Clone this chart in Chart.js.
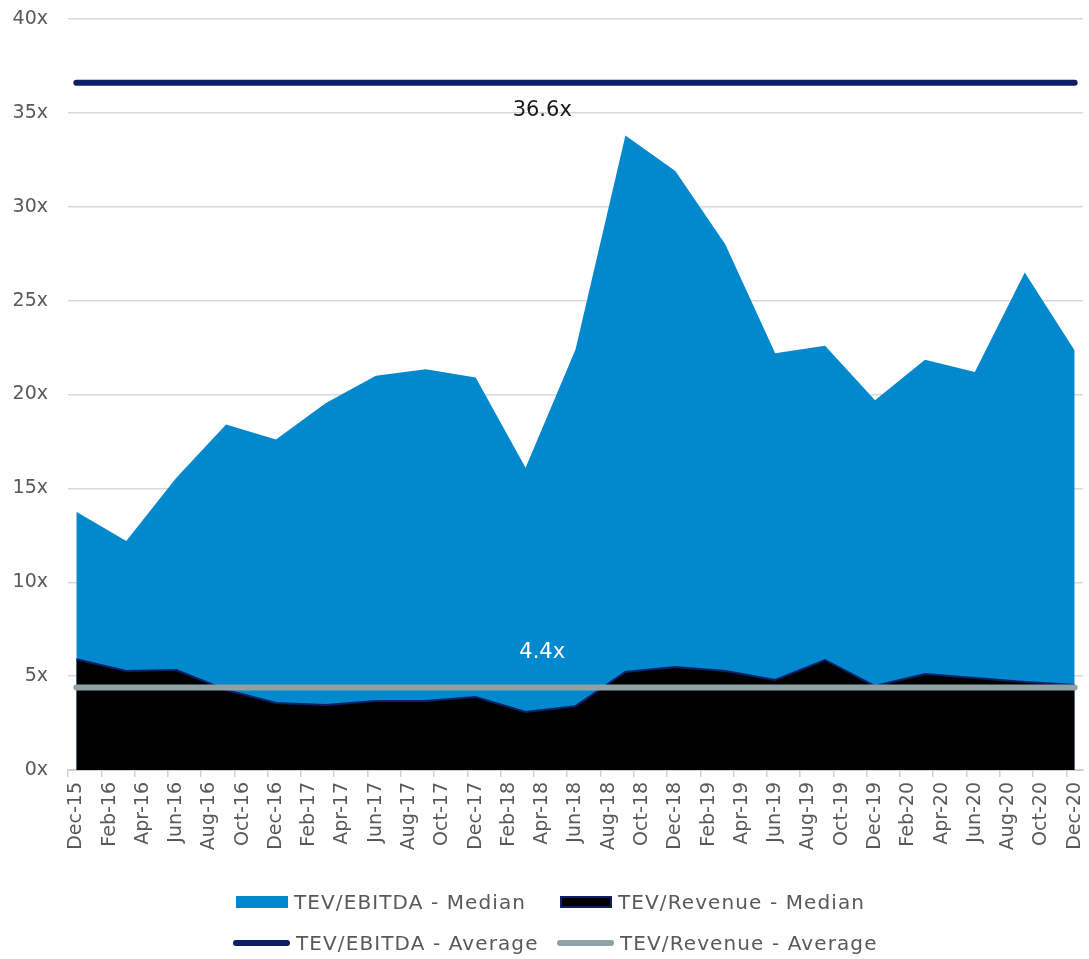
<!DOCTYPE html>
<html>
<head>
<meta charset="utf-8">
<script src="https://cdn.jsdelivr.net/npm/chart.js@4.4.1/dist/chart.umd.min.js"></script>
<style>
  body { margin: 0; background: #fff; }
  #wrap { position: relative; width: 1089px; height: 959px; }
  .legend {
    position: absolute; left: 233px; top: 889px;
    display: grid; grid-template-columns: 324px auto; row-gap: 15px;
    font-family: "DejaVu Sans", sans-serif; font-size: 20px; color: #595959;
    letter-spacing: 1.1px;
  }
  .item { display: flex; align-items: center; height: 26px; white-space: nowrap; }
  .mark { display: inline-block; margin-right: 6px; box-sizing: border-box; }
  .rect { width: 52px; height: 12px; margin-left: 3px; }
  .line { width: 57px; height: 6px; border-radius: 3px; }
</style>
</head>
<body>
<div id="wrap">
  <canvas id="chart"></canvas>
  <div class="legend" id="legend"></div>
</div>
<script>
// categorias mensais (Dec-15 .. Dec-20)
const monthNames = ['Jan', 'Feb', 'Mar', 'Apr', 'May', 'Jun', 'Jul', 'Aug', 'Sep', 'Oct', 'Nov', 'Dec'];
const months = [];
for (let i = 0; i <= 60; i++) {
  const m = (11 + i) % 12;
  const yr = 15 + Math.floor((11 + i) / 12);
  months.push(monthNames[m] + '-' + yr);
}

// dados trimestrais
const quarters = ['Dec-15', 'Mar-16', 'Jun-16', 'Sep-16', 'Dec-16', 'Mar-17', 'Jun-17', 'Sep-17', 'Dec-17',
  'Mar-18', 'Jun-18', 'Sep-18', 'Dec-18', 'Mar-19', 'Jun-19', 'Sep-19', 'Dec-19', 'Mar-20', 'Jun-20', 'Sep-20', 'Dec-20'];
const ebitdaMedian = [13.75, 12.2, 15.55, 18.4, 17.6, 19.55, 21.0, 21.35, 20.9, 16.1, 22.4,
  33.8, 31.9, 28.0, 22.2, 22.6, 19.7, 21.85, 21.2, 26.5, 22.35];
const revenueMedian = [5.9, 5.27, 5.32, 4.26, 3.57, 3.46, 3.67, 3.67, 3.89, 3.09, 3.4,
  5.22, 5.48, 5.27, 4.8, 5.86, 4.47, 5.11, 4.9, 4.69, 4.53];
const ebitdaAverage = 36.6;
const revenueAverage = 4.4;
const avgLabelAt = 'Apr-18';

const yTicks = [0, 5, 10, 15, 20, 25, 30, 35, 40];

const seriesNames = ['TEV/EBITDA - Median', 'TEV/Revenue - Median', 'TEV/EBITDA - Average', 'TEV/Revenue - Average'];
const colors = { blue: '#0288CC', black: '#000000', navy: '#0F1F66', gray: '#8FA3A7', text: '#595959' };

const toPoints = (vals) => quarters.map((q, i) => ({ x: q, y: vals[i] }));
const flatLine = (v) => [{ x: months[0], y: v }, { x: months[months.length - 1], y: v }];

// rótulos das médias
const avgLabels = {
  id: 'avgLabels',
  afterDatasetsDraw(chart) {
    const { ctx, scales } = chart;
    const x = scales.x.getPixelForValue(months.indexOf(avgLabelAt));
    ctx.save();
    ctx.font = '21px "DejaVu Sans", sans-serif';
    ctx.textAlign = 'center';
    ctx.textBaseline = 'middle';
    ctx.fillStyle = '#1a1a1a';
    ctx.fillText(ebitdaAverage.toFixed(1) + 'x', x, scales.y.getPixelForValue(ebitdaAverage) + 28);
    ctx.fillStyle = '#ffffff';
    ctx.fillText(revenueAverage.toFixed(1) + 'x', x, scales.y.getPixelForValue(revenueAverage) - 35);
    ctx.restore();
  }
};

const chart = new Chart(document.getElementById('chart'), {
  type: 'line',
  data: {
    labels: months,
    datasets: [
      { label: seriesNames[0], data: toPoints(ebitdaMedian), fill: 'origin', backgroundColor: colors.blue,
        borderColor: colors.blue, borderWidth: 0, pointRadius: 0, tension: 0, order: 4 },
      { label: seriesNames[1], data: toPoints(revenueMedian), fill: 'origin', backgroundColor: colors.black,
        borderColor: colors.navy, borderWidth: 2, pointRadius: 0, tension: 0, order: 3 },
      { label: seriesNames[2], data: flatLine(ebitdaAverage), fill: false, borderColor: colors.navy,
        borderWidth: 6, borderCapStyle: 'round', pointRadius: 0, order: 1 },
      { label: seriesNames[3], data: flatLine(revenueAverage), fill: false, borderColor: colors.gray,
        borderWidth: 6, borderCapStyle: 'round', pointRadius: 0, order: 2 }
    ]
  },
  options: {
    responsive: true,
    maintainAspectRatio: false,
    animation: false,
    layout: { padding: { top: 19, left: 12, right: 6, bottom: 109 } },
    plugins: { legend: { display: false }, tooltip: { enabled: false } },
    scales: {
      x: {
        type: 'category',
        offset: true,
        afterFit: (scale) => { scale.height = 80; scale.paddingLeft = 0; scale.paddingRight = 0; },
        grid: {
          offset: true, drawOnChartArea: false, drawTicks: true, tickLength: 7, lineWidth: 1.5,
          color: (c) => (c.index % 2 === 0 ? '#d0d0d0' : 'rgba(0,0,0,0)')
        },
        border: { display: true, color: '#d0d0d0', width: 2 },
        ticks: {
          autoSkip: false, minRotation: 90, maxRotation: 90, padding: 5, color: colors.text,
          font: { family: '"DejaVu Sans", sans-serif', size: 19 },
          callback: function (val, i) { return i % 2 === 0 ? this.getLabelForValue(val) : ''; }
        }
      },
      y: {
        min: yTicks[0],
        max: yTicks[yTicks.length - 1],
        afterFit: (scale) => { scale.width = 56; scale.paddingTop = 0; scale.paddingBottom = 0; },
        afterBuildTicks: (scale) => { scale.ticks = yTicks.map(v => ({ value: v })); },
        grid: { color: '#d9d9d9', lineWidth: 1.5, drawTicks: false },
        border: { display: false },
        ticks: {
          padding: 20, color: colors.text,
          font: { family: '"DejaVu Sans", sans-serif', size: 19 },
          callback: (v) => v + 'x'
        }
      }
    }
  },
  plugins: [avgLabels]
});

// legenda em HTML (2 x 2)
const legendMarks = [
  '<span class="mark rect" style="background:' + colors.blue + '"></span>',
  '<span class="mark rect" style="background:' + colors.black + ';border:2px solid ' + colors.navy + '"></span>',
  '<span class="mark line" style="background:' + colors.navy + '"></span>',
  '<span class="mark line" style="background:' + colors.gray + '"></span>'
];
document.getElementById('legend').innerHTML = seriesNames
  .map((name, i) => '<div class="item">' + legendMarks[i] + '<span>' + name + '</span></div>')
  .join('');
</script>
</body>
</html>
